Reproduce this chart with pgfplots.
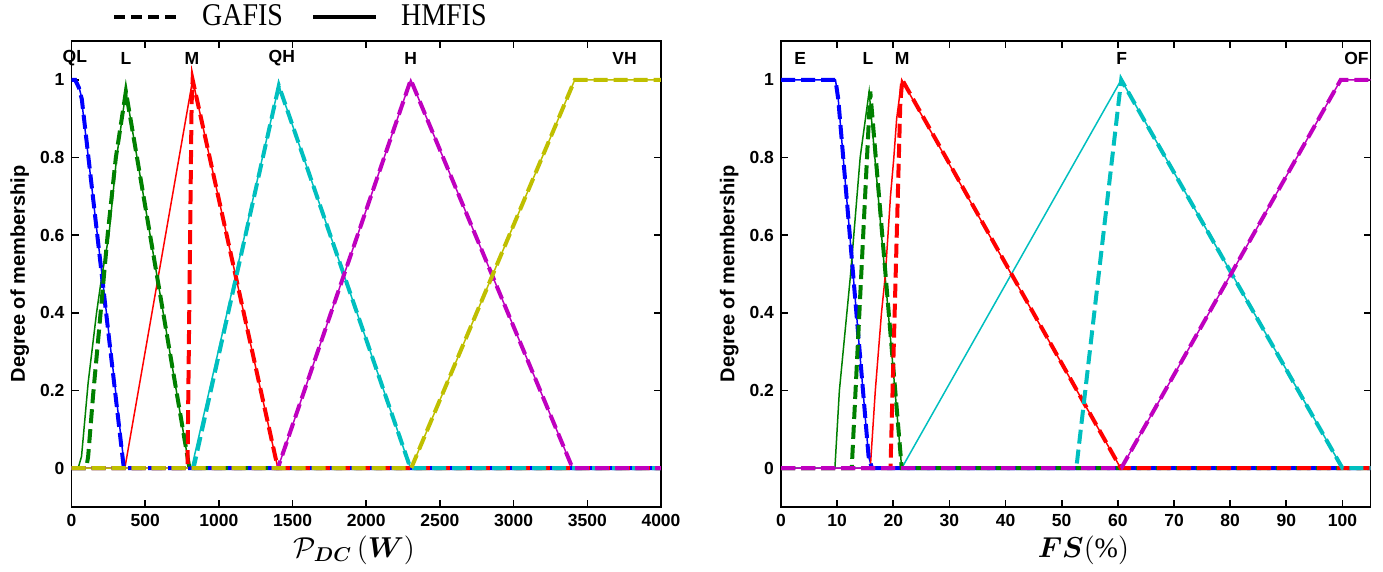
\documentclass[border=0pt]{standalone}
\usepackage{fontspec}
\setmainfont{Liberation Serif}
\setsansfont{Liberation Sans}
\usepackage{bm}
\usepackage{graphicx}
\usepackage{pgfplots}
\pgfplotsset{compat=1.18}
\definecolor{mblue}{rgb}{0,0,1}
\definecolor{mgreen}{rgb}{0,0.5,0}
\definecolor{mred}{rgb}{1,0,0}
\definecolor{mcyan}{rgb}{0,0.75,0.75}
\definecolor{mmag}{rgb}{0.75,0,0.75}
\definecolor{myel}{rgb}{0.75,0.75,0}
\tikzset{lab/.style={font=\fontsize{8.75}{10}\selectfont\sffamily\bfseries}}
\pgfplotsset{
  hm/.style={line width=0.75pt},
  ga/.style={line width=2pt, dash pattern=on 7pt off 3pt},
  base/.style={
    width=294.75pt, height=233pt, scale only axis,
    clip mode=individual,
    ymin=-0.1, ymax=1.1,
    ytick={0,0.2,0.4,0.6,0.8,1},
    yticklabels={0,0.2,0.4,0.6,0.8,1},
    tick align=inside,
    major tick length=3.5pt,
    every tick/.style={black, line width=0.8pt},
    axis line style={line width=0.9pt},
    tick label style={font=\fontsize{8.75}{10}\selectfont\sffamily\bfseries},
    /pgf/number format/assume math mode=true,
    /pgf/number format/1000 sep={},
    ylabel={Degree of membership},
    ylabel style={at={(axis description cs:-0.088,0.5)}, anchor=center, font=\fontsize{10}{12}\selectfont\sffamily\bfseries},
    xlabel style={font=\fontsize{14}{16}\selectfont},
  },
}
\begin{document}
\begin{tikzpicture}
\path[use as bounding box] (0,0) rectangle (691.5pt,286pt);
% ---------------- left: P_DC ----------------
\begin{axis}[base, at={(35.75pt,32.5pt)}, anchor=south west,
  xmin=0, xmax=4000, xtick={0,500,...,4000},
  xlabel={$\mathcal{P}_{\bm{DC}}\,(\bm{W})$},
  xlabel style={at={(axis description cs:0.48,-0.092)}, anchor=center},
  legend style={at={(axis description cs:0.39,1.052)}, anchor=center, draw=none, fill=none,
    legend columns=2, font=\fontsize{14}{16}\selectfont\rmfamily,
    /tikz/every odd column/.append style={column sep=4.5pt},
    /tikz/every even column/.append style={column sep=12pt}},
  legend image code/.code={\draw[#1] (0pt,0pt) -- (31.5pt,0pt);},
]
\addlegendimage{black, line width=2pt, dash pattern=on 5.5pt off 3pt}
\addlegendentry{\hspace{5pt}\scalebox{1}[1.13]{GAFIS}}
\addlegendimage{black, line width=2pt}
\addlegendentry{\hspace{5pt}\scalebox{1}[1.13]{HMFIS}}
% HMFIS (solid)
\addplot[hm, mblue, forget plot] coordinates {(0,1) (20,1) (45,0.99) (65,0.96) (360,0) (4000,0)};
\addplot[hm, mgreen, forget plot] coordinates {(0,0) (45,0) (68,0.03) (113,0.22) (170,0.4) (204,0.49) (254,0.6) (306,0.8) (369,0.97) (800,0) (4000,0)};
\addplot[hm, mred, forget plot] coordinates {(0,0) (362,0) (822,1) (1400,0) (4000,0)};
\addplot[hm, mcyan, forget plot] coordinates {(0,0) (815,0) (1407,0.985) (2300,0) (4000,0)};
\addplot[hm, mmag, forget plot] coordinates {(0,0) (1400,0) (2302,1) (3400,0) (4000,0)};
\addplot[hm, myel, forget plot] coordinates {(0,0) (2305,0) (3415,1) (4000,1)};
% GAFIS (dashed)
\addplot[ga, mblue, forget plot] coordinates {(0,1) (25,1) (50,0.98) (70,0.95) (355,0) (4000,0)};
\addplot[ga, mgreen, forget plot] coordinates {(0,0) (100,0) (113,0.03) (147,0.19) (188,0.36) (245,0.6) (301,0.8) (369,0.97) (800,0) (4000,0)};
\addplot[ga, mred, forget plot] coordinates {(0,0) (787,0) (815,0.94) (822,1) (1400,0) (4000,0)};
\addplot[ga, mcyan, forget plot] coordinates {(0,0) (828,0) (1407,0.985) (2300,0) (4000,0)};
\addplot[ga, mmag, forget plot] coordinates {(0,0) (1400,0) (2302,1) (3400,0) (4000,0)};
\addplot[ga, myel, forget plot] coordinates {(0,0) (2305,0) (3415,1) (4000,1)};
\node[lab] at (axis cs:23,1.055) {QL};
\node[lab] at (axis cs:369,1.055) {L};
\node[lab] at (axis cs:817,1.055) {M};
\node[lab] at (axis cs:1427,1.055) {QH};
\node[lab] at (axis cs:2302,1.055) {H};
\node[lab] at (axis cs:3753,1.055) {VH};
\end{axis}
% ---------------- right: FS ----------------
\begin{axis}[base, at={(390.5pt,32.5pt)}, anchor=south west,
  xmin=0, xmax=105, xtick={0,10,...,100},
  xlabel={$\bm{FS}(\%)$},
  xlabel style={at={(axis description cs:0.513,-0.092)}, anchor=center},
]
% HMFIS (solid)
\addplot[hm, mblue] coordinates {(0,1) (9.7,1) (10.2,0.95) (15.6,0.03) (16.2,0) (105,0)};
\addplot[hm, mgreen] coordinates {(0,0) (9.6,0) (10.4,0.2) (12.4,0.5) (14.1,0.8) (15.7,0.97) (21.5,0) (105,0)};
\addplot[hm, mred] coordinates {(0,0) (15.9,0) (16.8,0.2) (17.9,0.4) (18.6,0.5) (19.5,0.7) (20.1,0.8) (20.6,0.9) (21.5,1) (60.5,0) (105,0)};
\addplot[hm, mcyan] coordinates {(0,0) (21.5,0) (60.6,1) (100,0) (105,0)};
\addplot[hm, mmag] coordinates {(0,0) (60.6,0) (99.7,1) (105,1)};
% GAFIS (dashed)
\addplot[ga, mblue] coordinates {(0,1) (9.7,1) (10.2,0.95) (15.6,0.03) (16.2,0) (105,0)};
\addplot[ga, mgreen] coordinates {(0,0) (12.6,0) (15.9,0.97) (21.5,0) (105,0)};
\addplot[ga, mred] coordinates {(0,0) (19.5,0) (21.25,0.94) (21.6,1) (60.5,0) (105,0)};
\addplot[ga, mcyan] coordinates {(0,0) (52.6,0) (60.6,1) (100,0) (105,0)};
\addplot[ga, mmag] coordinates {(0,0) (60.6,0) (99.7,1) (105,1)};
\node[lab] at (axis cs:3.4,1.055) {E};
\node[lab] at (axis cs:15.5,1.055) {L};
\node[lab] at (axis cs:21.6,1.055) {M};
\node[lab] at (axis cs:60.7,1.055) {F};
\node[lab] at (axis cs:102.5,1.055) {OF};
\end{axis}
\end{tikzpicture}
\end{document}
